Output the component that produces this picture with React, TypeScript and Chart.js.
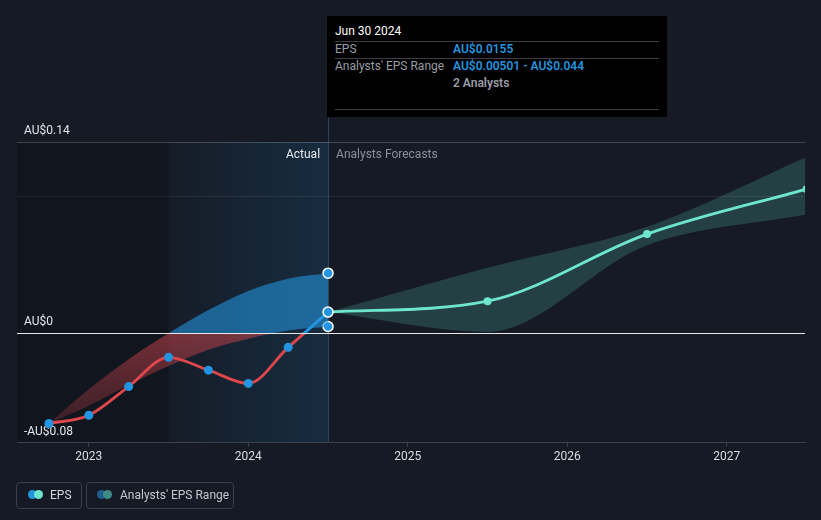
import React, { useEffect, useRef } from 'react';
import { Chart, registerables } from 'chart.js';

Chart.register(...registerables);

// ---- data ----
const actualDates = [2022.75, 2023.0, 2023.25, 2023.5, 2023.75, 2024.0, 2024.25, 2024.5];
const actualEps = [-0.066, -0.06, -0.039, -0.0176, -0.027, -0.0367, -0.0103, 0.0155];
const pastRangeHigh = [-0.066, -0.041, -0.019, 0.0, 0.017, 0.031, 0.04, 0.044];
const pastRangeLow = [-0.066, -0.053, -0.038, -0.024, -0.012, -0.004, 0.002, 0.00501];
const forecastDates = [2024.5, 2025.5, 2026.5, 2027.5];
const forecastEps = [0.0155, 0.0235, 0.0726, 0.1056];
const forecastHigh = [0.0155, 0.048, 0.078, 0.129];
const forecastLow = [0.0155, 0.001, 0.0645, 0.087];
const yearTicks = [2023, 2024, 2025, 2026, 2027];
const yTicks = [-0.08, 0, 0.1, 0.14];
const yLabelled = [-0.08, 0, 0.14];

const BG = '#151a24';
const BLUE = '#2394df';
const RED = '#e0474c';
const TEAL = '#6ee6cf';
const FONT = 'Roboto, "Noto Sans", sans-serif';

function pts(xs: number[], ys: number[]) {
  return xs.map((x, i) => ({ x, y: ys[i] }));
}

function signGradient(ctx: any, above: string, below: string, belowEnd?: string) {
  const chart = ctx.chart;
  const area = chart.chartArea;
  if (!area) return below;
  const y0 = chart.scales.y.getPixelForValue(0);
  const g = chart.ctx.createLinearGradient(0, area.top, 0, area.bottom);
  const s = Math.min(1, Math.max(0, (y0 - area.top) / (area.bottom - area.top)));
  g.addColorStop(0, above);
  g.addColorStop(s, above);
  g.addColorStop(s, below);
  g.addColorStop(1, belowEnd || below);
  return g;
}

const lastBig = (n: number, r: number) => (c: any) => (c.dataIndex === n - 1 ? 5 : r);

const bgPlugin = {
  id: 'bgRegions',
  beforeDraw(chart: any) {
    const { ctx, chartArea: a, scales } = chart;
    const x = scales.x;
    ctx.save();
    ctx.fillStyle = BG;
    ctx.fillRect(0, 0, chart.width, chart.height);
    const xs = x.getPixelForValue(2023.5);
    const xe = x.getPixelForValue(2024.5);
    ctx.fillStyle = '#11151d';
    ctx.fillRect(a.left, a.top, xs - a.left, a.bottom - a.top);
    const g = ctx.createLinearGradient(xs, 0, xe, 0);
    g.addColorStop(0, 'rgba(35,148,223,0.02)');
    g.addColorStop(1, 'rgba(35,148,223,0.15)');
    ctx.fillStyle = g;
    ctx.fillRect(xs, a.top, xe - xs, a.bottom - a.top);
    ctx.strokeStyle = 'rgba(60,120,170,0.45)';
    ctx.lineWidth = 1;
    ctx.beginPath();
    ctx.moveTo(Math.round(xe) + 0.5, 117);
    ctx.lineTo(Math.round(xe) + 0.5, a.bottom);
    ctx.stroke();
    ctx.font = '12px ' + FONT;
    ctx.textBaseline = 'middle';
    ctx.textAlign = 'right';
    ctx.fillStyle = '#e8eaed';
    ctx.fillText('Actual', xe - 8, a.top + 13);
    ctx.textAlign = 'left';
    ctx.fillStyle = '#8b9099';
    ctx.fillText('Analysts Forecasts', xe + 8, a.top + 13);
    ctx.restore();
  },
};

export default function App() {
  const ref = useRef<HTMLCanvasElement>(null);
  useEffect(() => {
    document.body.style.margin = '0';
    document.body.style.background = BG;
    const n = actualDates.length;
    const chart = new Chart(ref.current as HTMLCanvasElement, {
      type: 'line',
      data: {
        datasets: [
          {
            label: 'EPS',
            data: pts(actualDates, actualEps),
            borderColor: (c: any) => signGradient(c, BLUE, RED),
            borderWidth: 2.8,
            cubicInterpolationMode: 'monotone',
            pointRadius: lastBig(n, 4.5),
            pointBackgroundColor: BLUE,
            pointBorderColor: '#ffffff',
            pointBorderWidth: (c: any) => (c.dataIndex === n - 1 ? 1.5 : 0),
            fill: false,
          },
          {
            label: 'Forecast',
            data: pts(forecastDates, forecastEps),
            borderColor: TEAL,
            borderWidth: 2.8,
            cubicInterpolationMode: 'monotone',
            pointRadius: (c: any) => (c.dataIndex === 0 ? 0 : 4),
            pointBackgroundColor: TEAL,
            pointBorderWidth: 0,
            fill: false,
          },
          {
            label: 'pastHigh',
            data: pts(actualDates, pastRangeHigh),
            borderWidth: 0,
            borderColor: 'transparent',
            cubicInterpolationMode: 'monotone',
            pointRadius: (c: any) => (c.dataIndex === n - 1 ? 5 : 0),
            pointBackgroundColor: BLUE,
            pointBorderColor: '#ffffff',
            pointBorderWidth: 1.5,
            fill: { target: '+1' },
            backgroundColor: (c: any) =>
              signGradient(c, 'rgba(35,148,223,0.58)', 'rgba(224,72,80,0.48)', 'rgba(224,72,80,0.14)'),
          },
          {
            label: 'pastLow',
            data: pts(actualDates, pastRangeLow),
            borderWidth: 0,
            borderColor: 'transparent',
            cubicInterpolationMode: 'monotone',
            pointRadius: (c: any) => (c.dataIndex === n - 1 ? 5 : 0),
            pointBackgroundColor: BLUE,
            pointBorderColor: '#ffffff',
            pointBorderWidth: 1.5,
            fill: false,
          },
          {
            label: 'fcHigh',
            data: pts(forecastDates, forecastHigh),
            borderWidth: 0,
            borderColor: 'transparent',
            cubicInterpolationMode: 'monotone',
            pointRadius: 0,
            fill: { target: '+1' },
            backgroundColor: 'rgba(90,200,185,0.22)',
          },
          {
            label: 'fcLow',
            data: pts(forecastDates, forecastLow),
            borderWidth: 0,
            borderColor: 'transparent',
            cubicInterpolationMode: 'monotone',
            pointRadius: 0,
            fill: false,
          },
        ],
      },
      options: {
        animation: false,
        responsive: false,
        maintainAspectRatio: false,
        events: [],
        layout: { padding: { left: 3, right: 16, top: 142, bottom: 53 } },
        plugins: { legend: { display: false }, tooltip: { enabled: false } },
        scales: {
          x: {
            type: 'linear',
            min: 2022.55,
            max: 2027.49,
            afterBuildTicks: (s: any) => {
              s.ticks = yearTicks.map((v) => ({ value: v }));
            },
            ticks: {
              autoSkip: false,
              maxRotation: 0,
              color: '#dadde2',
              font: { family: FONT, size: 12 },
              padding: 3,
              callback: (v: any) => String(v),
            },
            grid: { drawOnChartArea: false, drawTicks: true, tickLength: 4, color: '#3b404b' },
            border: { color: '#3b404b' },
          },
          y: {
            type: 'linear',
            min: -0.08,
            max: 0.14,
            afterBuildTicks: (s: any) => {
              s.ticks = yTicks.map((v) => ({ value: v }));
            },
            ticks: {
              mirror: true,
              padding: 7,
              labelOffset: -11,
              color: '#e4e6ea',
              font: { family: FONT, size: 12 },
              callback: (v: any) => {
                if (!yLabelled.includes(v)) return '';
                if (v === 0) return 'AU$0';
                return (v < 0 ? '-AU$' : 'AU$') + Math.abs(v);
              },
            },
            grid: {
              drawTicks: false,
              z: 1,
              color: (c: any) => {
                const v = c.tick && c.tick.value;
                if (v === 0) return '#e8e8e8';
                if (v === 0.14) return 'rgba(255,255,255,0.2)';
                if (v === 0.1) return 'rgba(255,255,255,0.07)';
                return 'transparent';
              },
            },
            border: { display: false },
          },
        },
      } as any,
      plugins: [bgPlugin],
    });
    return () => chart.destroy();
  }, []);

  const txt: React.CSSProperties = { position: 'absolute', fontFamily: FONT, fontSize: 12, lineHeight: '14px', whiteSpace: 'nowrap' };
  const sep = (top: number): React.CSSProperties => ({ position: 'absolute', left: 8, width: 324, top, height: 1, background: '#3d3f44' });
  const dot = (left: number, color: string): React.CSSProperties => ({ position: 'absolute', left, top: 7, width: 9, height: 9, borderRadius: '50%', background: color });
  const box = (left: number, width: number): React.CSSProperties => ({ position: 'absolute', left, top: 482, width, height: 25, border: '1px solid #3a3f4a', borderRadius: 4, boxSizing: 'content-box' });

  return (
    <div style={{ position: 'relative', width: 821, height: 520, background: BG, overflow: 'hidden' }}>
      <canvas ref={ref} width={821} height={520} style={{ display: 'block', width: 821, height: 520 }} />
      <div style={{ position: 'absolute', left: 327, top: 16, width: 340, height: 101, background: '#000' }}>
        <div style={{ ...txt, left: 8, top: 8, color: '#ffffff' }}>Jun 30 2024</div>
        <div style={sep(25)} />
        <div style={{ ...txt, left: 8, top: 26, color: '#9a9ea6' }}>EPS</div>
        <div style={{ ...txt, left: 126, top: 26, color: BLUE, fontWeight: 600 }}>AU$0.0155</div>
        <div style={sep(42)} />
        <div style={{ ...txt, left: 8, top: 43, color: '#9a9ea6' }}>Analysts' EPS Range</div>
        <div style={{ ...txt, left: 126, top: 43, color: BLUE, fontWeight: 600 }}>AU$0.00501 - AU$0.044</div>
        <div style={{ ...txt, left: 126, top: 60, color: '#9a9ea6', fontWeight: 600 }}>2 Analysts</div>
        <div style={sep(93)} />
      </div>
      <div style={box(16, 64)}>
        <div style={dot(11, BLUE)} />
        <div style={dot(17, TEAL)} />
        <div style={{ ...txt, left: 33, top: 5, color: '#d4d7dc' }}>EPS</div>
      </div>
      <div style={box(86, 146)}>
        <div style={dot(10, '#1f5d8c')} />
        <div style={dot(16, '#3f8a84')} />
        <div style={{ ...txt, left: 33, top: 5, color: '#c4c8ce' }}>Analysts' EPS Range</div>
      </div>
    </div>
  );
}
